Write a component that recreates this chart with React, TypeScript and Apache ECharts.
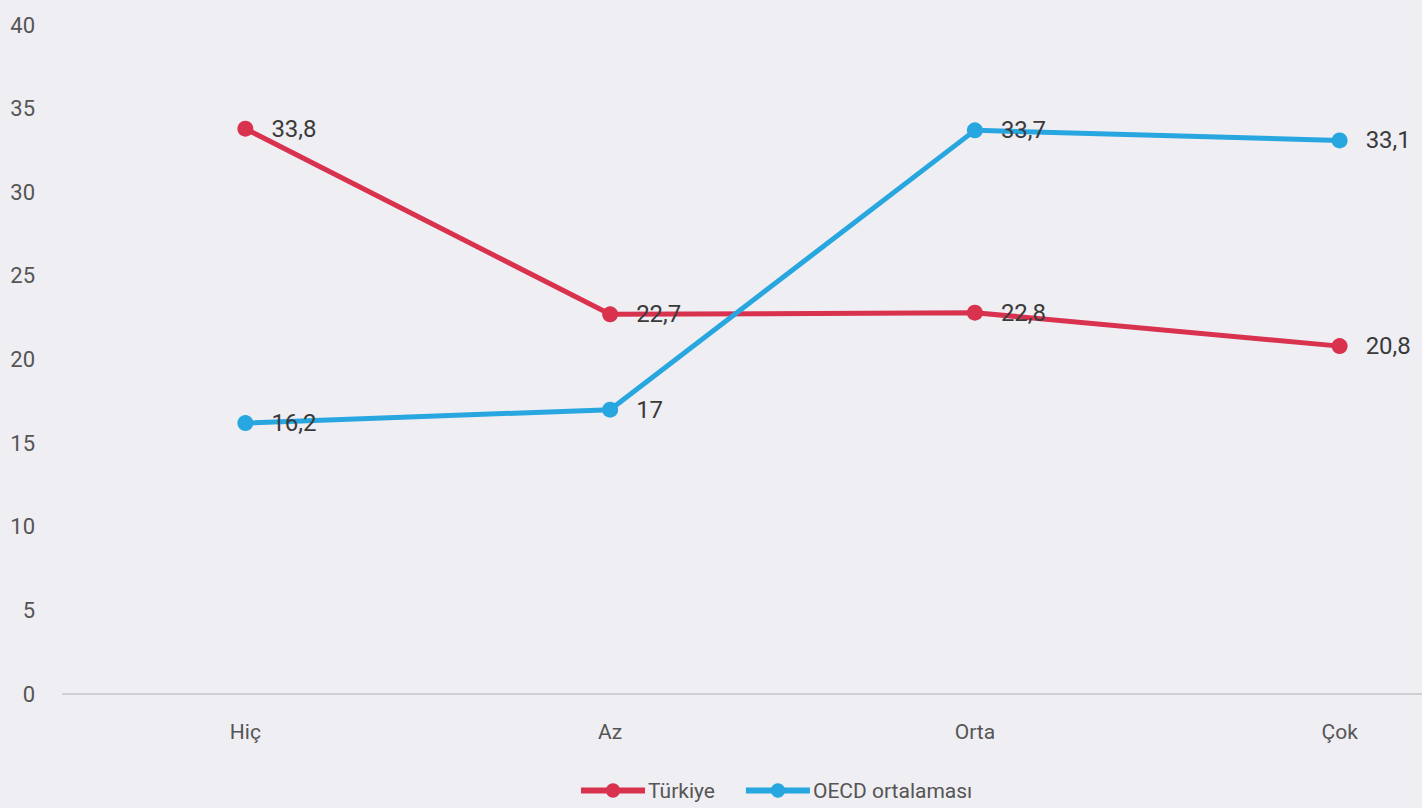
import React, { useEffect, useRef } from "react";
import * as echarts from "echarts";

const categories = ["Hiç", "Az", "Orta", "Çok"];
const turkiye = [33.8, 22.7, 22.8, 20.8];
const oecd = [16.2, 17, 33.7, 33.1];
const seriesNames = ["Türkiye", "OECD ortalaması"];
const yTicks = { min: 0, max: 40, interval: 5 };

const FONT = "Roboto, 'Noto Sans', sans-serif";
const RED = "#d8324f";
const BLUE = "#27a6df";

export default function App() {
  const ref = useRef<HTMLDivElement>(null);
  useEffect(() => {
    document.body.style.margin = "0";
    const chart = echarts.init(ref.current!, null, { renderer: "svg" });
    const fmt = (p: any) => String(p.value).replace(".", ",");
    const mkSeries = (name: string, data: number[], color: string) => ({
      name,
      type: "line",
      data,
      symbol: "circle",
      symbolSize: 16,
      lineStyle: { width: 5, color },
      itemStyle: { color },
      label: {
        show: true,
        position: "right",
        distance: 18,
        formatter: fmt,
        color: "#3a3a3a",
        fontSize: 24,
        fontFamily: FONT,
      },
    });
    chart.setOption({
      animation: false,
      backgroundColor: "#efeef3",
      textStyle: { fontFamily: FONT },
      legend: {
        left: 573,
        top: 775,
        itemWidth: 64,
        itemHeight: 18,
        itemGap: 28,
        lineStyle: { width: 6 },
        textStyle: { color: "#555", fontSize: 21, fontFamily: FONT, padding: [0, 0, 0, -2] },
        data: seriesNames,
      },
      grid: { left: 63, top: 25, right: 0, bottom: 114 },
      xAxis: {
        type: "category",
        data: categories,
        boundaryGap: true,
        axisLine: { lineStyle: { color: "#cfcfd3", width: 2 } },
        axisTick: { show: false },
        axisLabel: { color: "#555", fontSize: 21, margin: 27, fontFamily: FONT },
      },
      yAxis: {
        type: "value",
        min: yTicks.min,
        max: yTicks.max,
        interval: yTicks.interval,
        axisLine: { show: false },
        axisTick: { show: false },
        splitLine: { show: false },
        axisLabel: { color: "#555", fontSize: 22, margin: 28, fontFamily: FONT },
      },
      series: [mkSeries(seriesNames[0], turkiye, RED), mkSeries(seriesNames[1], oecd, BLUE)],
    });
    return () => chart.dispose();
  }, []);
  return (
    <div style={{ width: 1422, height: 808, overflow: "hidden", background: "#efeef3" }}>
      <div ref={ref} style={{ width: 1522, height: 808 }} />
    </div>
  );
}
